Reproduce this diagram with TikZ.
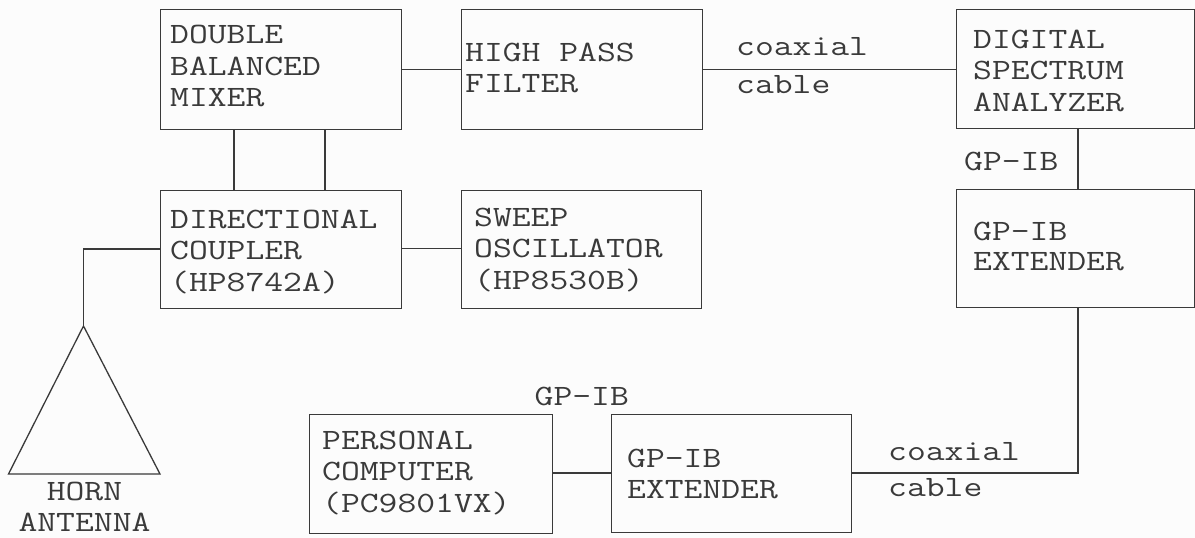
\documentclass[tikz,border=0pt]{standalone}
\usepackage{fontspec}
\newfontfamily\typ[FakeStretch=1.24]{Latin Modern Mono}
\definecolor{ink}{HTML}{3A3A3A}
\begin{document}
\begin{tikzpicture}[x=1pt,y=-1pt,
  box/.style={draw=ink,line width=1.3pt,anchor=north west,inner sep=0pt},
  lab/.style={font=\typ\fontsize{29.5}{#1}\selectfont,align=left,anchor=north west,inner sep=0pt,text=ink,yshift=2.8pt},
  lab/.default=31.5,
  wire/.style={draw=ink,line width=1.3pt,line join=miter}]
\useasboundingbox (0,0) rectangle (1195,538);
\path[fill=white!99!black] (0,0) rectangle (1195,538);
\newcommand{\bx}[5]{\node[box,minimum width=#4 pt,minimum height=#5 pt] (#1) at (#2,#3) {};}
\bx{mix}{159.5}{9}{241}{120}
\bx{hpf}{460.5}{9}{241}{120}
\bx{dsa}{956}{9}{238}{119}
\bx{dc}{159.5}{190}{241}{118}
\bx{osc}{461}{189.5}{240}{118.5}
\bx{ext}{956}{189}{238}{118}
\bx{pc}{309}{414}{243}{119}
\bx{ex2}{611}{413.5}{240}{118.5}
\node[lab] (t1) at (170,28) {DOUBLE\\BALANCED\\MIXER};
\node[lab] (t2) at (465,45.6) {HIGH PASS\\FILTER};
\node[lab] (t3) at (973,32.3) {DIGITAL\\SPECTRUM\\ANALYZER};
\node[lab] (t4) at (170,212.3) {DIRECTIONAL\\COUPLER\\(HP8742A)};
\node[lab] (t5) at (474,210.3) {SWEEP\\OSCILLATOR\\(HP8530B)};
\node[lab=30] (t6) at (973,224.3) {GP-IB\\EXTENDER};
\node[lab] (t7) at (322,433.3) {PERSONAL\\COMPUTER\\(PC9801VX)};
\node[lab] (t8) at (627,451.3) {GP-IB\\EXTENDER};
\node[lab=38] (c1) at (736,40.3) {coaxial\\cable};
\node[lab=36] (c2) at (888,445.3) {coaxial\\cable};
\node[lab] (g1) at (964,154.3) {GP-IB};
\node[lab] (g2) at (534.5,389.3) {GP-IB};
\node[lab,align=center,anchor=north] (h) at (84.5,484.3) {HORN\\ANTENNA};
\coordinate (apex) at (83.5,326);
\coordinate (hl) at (8.5,474);
\coordinate (hr) at (160,474);
\draw[wire] (apex)--(hl)--(hr)--cycle;
\draw[wire] (mix.east |- 0,69.5) -- (hpf.west |- 0,69.5);
\draw[wire] (hpf.east |- 0,69.5) -- (dsa.west |- 0,69.5);
\draw[wire] (234,0 |- mix.south) -- (234,0 |- dc.north);
\draw[wire] (325,0 |- mix.south) -- (325,0 |- dc.north);
\draw[wire] (dc.east |- 0,248.7) -- (osc.west |- 0,248.7);
\draw[wire] (dc.west |- 0,249) -| (apex);
\draw[wire] (1078,0 |- dsa.south) -- (1078,0 |- ext.north);
\draw[wire] (1078,0 |- ext.south) |- (ex2.east |- 0,473);
\draw[wire] (pc.east |- 0,473) -- (ex2.west |- 0,473);
\end{tikzpicture}
\end{document}
